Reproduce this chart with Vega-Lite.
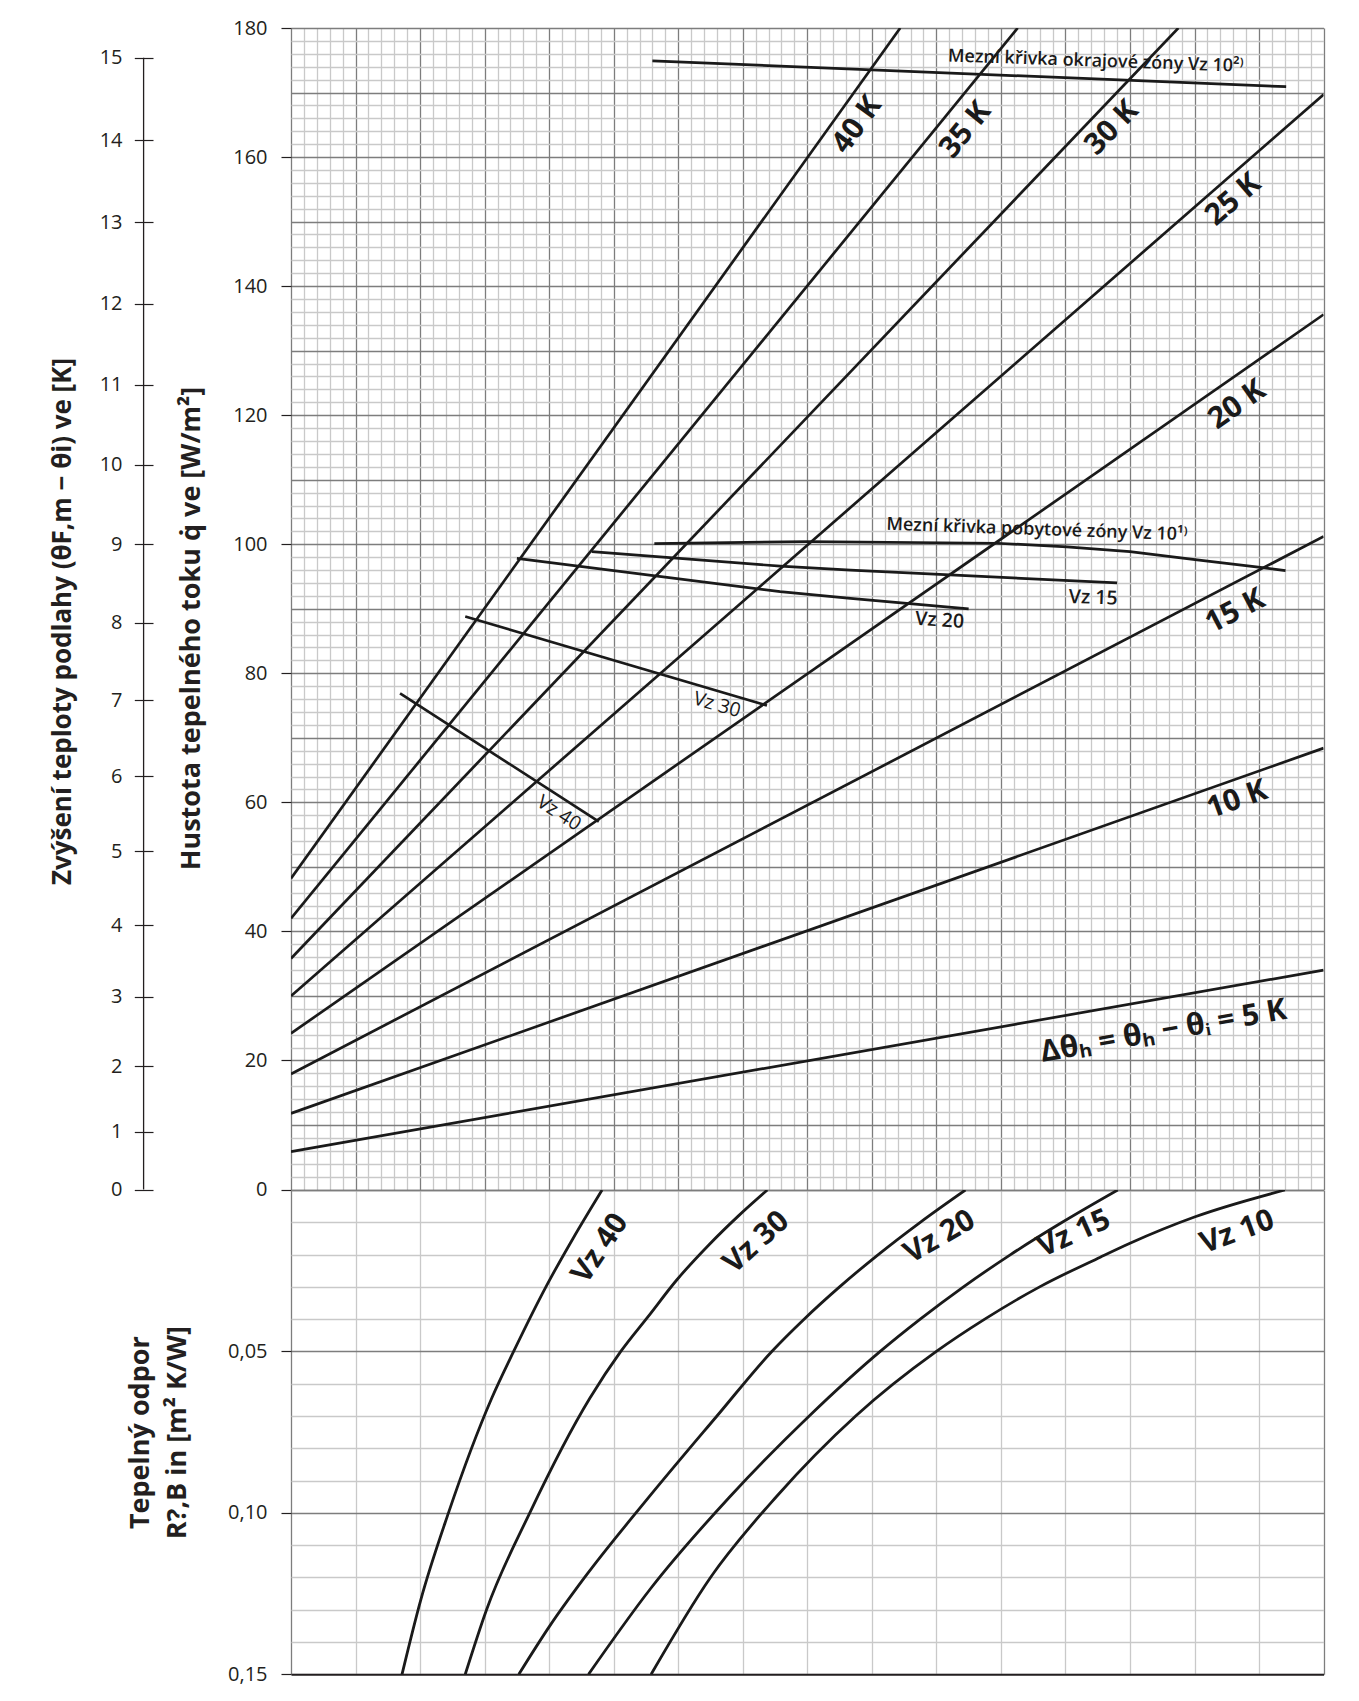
{
  "$schema": "https://vega.github.io/schema/vega-lite/v6.json",
  "background": "white",
  "padding": {"left": 49, "top": 18, "right": 5, "bottom": 5},
  "datasets": {
    "lines": [
      {"s": "5K", "x": 0, "q": 5.87}, {"s": "5K", "x": 16, "q": 34.0},
      {"s": "10K", "x": 0, "q": 11.8}, {"s": "10K", "x": 16, "q": 68.4},
      {"s": "15K", "x": 0, "q": 17.9}, {"s": "15K", "x": 16, "q": 101.2},
      {"s": "20K", "x": 0, "q": 24.2}, {"s": "20K", "x": 16, "q": 135.6},
      {"s": "25K", "x": 0, "q": 30.0}, {"s": "25K", "x": 16, "q": 169.7},
      {"s": "30K", "x": 0, "q": 35.8}, {"s": "30K", "x": 13.75, "q": 180},
      {"s": "35K", "x": 0, "q": 42.0}, {"s": "35K", "x": 11.26, "q": 180},
      {"s": "40K", "x": 0, "q": 48.2}, {"s": "40K", "x": 9.44, "q": 180},
      {"s": "okr", "x": 5.60, "q": 174.9}, {"s": "okr", "x": 15.42, "q": 170.9},
      {"s": "pob", "x": 5.63, "q": 100.1}, {"s": "pob", "x": 8.0, "q": 100.4}, {"s": "pob", "x": 10.94, "q": 100.15},
      {"s": "pob", "x": 12.02, "q": 99.6}, {"s": "pob", "x": 13.0, "q": 98.85}, {"s": "pob", "x": 14.04, "q": 97.57},
      {"s": "pob", "x": 15.02, "q": 96.4}, {"s": "pob", "x": 15.41, "q": 95.9},
      {"s": "v15", "x": 4.66, "q": 98.85}, {"s": "v15", "x": 7.58, "q": 96.6}, {"s": "v15", "x": 8.67, "q": 96.0}, {"s": "v15", "x": 12.8, "q": 94.0},
      {"s": "v20", "x": 3.50, "q": 97.8}, {"s": "v20", "x": 7.58, "q": 92.65}, {"s": "v20", "x": 8.67, "q": 91.6}, {"s": "v20", "x": 10.5, "q": 89.97},
      {"s": "v30", "x": 2.70, "q": 88.8}, {"s": "v30", "x": 7.375, "q": 75.0},
      {"s": "v40", "x": 1.69, "q": 76.9}, {"s": "v40", "x": 4.77, "q": 57.0}
    ],
    "tl": [
      {"id": "k40", "label": "40 K", "x": 8.77, "q": 165.0},
      {"id": "k35", "label": "35 K", "x": 10.45, "q": 164.2},
      {"id": "k30", "label": "30 K", "x": 12.72, "q": 164.5},
      {"id": "k25", "label": "25 K", "x": 14.6, "q": 153.4},
      {"id": "k20", "label": "20 K", "x": 14.66, "q": 121.6},
      {"id": "k15", "label": "15 K", "x": 14.63, "q": 89.6},
      {"id": "k10", "label": "10 K", "x": 14.66, "q": 60.4},
      {"id": "k5", "label": "Δθₕ = θₕ − θᵢ = 5 K", "x": 13.52, "q": 24.5},
      {"id": "okr", "label": "Mezní křivka okrajové zóny Vz 10²⁾", "x": 12.47, "q": 174.8},
      {"id": "pob", "label": "Mezní křivka pobytové zóny Vz 10¹⁾", "x": 11.56, "q": 102.2},
      {"id": "v15", "label": "Vz 15", "x": 12.43, "q": 91.7},
      {"id": "v20", "label": "Vz 20", "x": 10.05, "q": 88.2},
      {"id": "v30", "label": "Vz 30", "x": 6.6, "q": 75.1},
      {"id": "v40", "label": "Vz 40", "x": 4.15, "q": 58.3}
    ],
    "leftaxis": [{"t0": 0, "t1": 15}],
    "rcurves": [
      {"s": "40", "x": 4.82, "r": 0}, {"s": "40", "x": 4.37, "r": 0.015}, {"s": "40", "x": 3.95, "r": 0.030}, {"s": "40", "x": 3.45, "r": 0.050},
      {"s": "40", "x": 3.11, "r": 0.0645}, {"s": "40", "x": 2.44, "r": 0.100}, {"s": "40", "x": 2.01, "r": 0.127}, {"s": "40", "x": 1.72, "r": 0.15},
      {"s": "30", "x": 7.38, "r": 0}, {"s": "30", "x": 6.95, "r": 0.0077}, {"s": "30", "x": 6.47, "r": 0.0171}, {"s": "30", "x": 5.98, "r": 0.0278},
      {"s": "30", "x": 5.53, "r": 0.0393}, {"s": "30", "x": 5.11, "r": 0.050}, {"s": "30", "x": 4.63, "r": 0.0645}, {"s": "30", "x": 3.70, "r": 0.100},
      {"s": "30", "x": 3.03, "r": 0.130}, {"s": "30", "x": 2.70, "r": 0.15},
      {"s": "20", "x": 10.45, "r": 0}, {"s": "20", "x": 9.75, "r": 0.01}, {"s": "20", "x": 9.1, "r": 0.02}, {"s": "20", "x": 8.5, "r": 0.03},
      {"s": "20", "x": 7.95, "r": 0.04}, {"s": "20", "x": 7.45, "r": 0.05}, {"s": "20", "x": 6.6, "r": 0.07}, {"s": "20", "x": 5.51, "r": 0.096},
      {"s": "20", "x": 4.55, "r": 0.12}, {"s": "20", "x": 4.01, "r": 0.135}, {"s": "20", "x": 3.53, "r": 0.15},
      {"s": "15", "x": 12.81, "r": 0}, {"s": "15", "x": 11.95, "r": 0.01}, {"s": "15", "x": 11.15, "r": 0.02}, {"s": "15", "x": 10.42, "r": 0.03},
      {"s": "15", "x": 9.75, "r": 0.04}, {"s": "15", "x": 9.13, "r": 0.05}, {"s": "15", "x": 8.03, "r": 0.07}, {"s": "15", "x": 6.8, "r": 0.095},
      {"s": "15", "x": 5.57, "r": 0.1235}, {"s": "15", "x": 4.61, "r": 0.15},
      {"s": "10", "x": 15.4, "r": 0}, {"s": "10", "x": 14.01, "r": 0.0083}, {"s": "10", "x": 13.0, "r": 0.0165}, {"s": "10", "x": 12.54, "r": 0.0208},
      {"s": "10", "x": 11.6, "r": 0.03}, {"s": "10", "x": 10.75, "r": 0.04}, {"s": "10", "x": 10.0, "r": 0.05}, {"s": "10", "x": 8.75, "r": 0.07},
      {"s": "10", "x": 7.52, "r": 0.095}, {"s": "10", "x": 6.5, "r": 0.12}, {"s": "10", "x": 5.58, "r": 0.15}
    ],
    "bl": [
      {"id": "40", "label": "Vz 40", "x": 4.79, "r": 0.0181},
      {"id": "30", "label": "Vz 30", "x": 7.21, "r": 0.0162},
      {"id": "20", "label": "Vz 20", "x": 10.05, "r": 0.0145},
      {"id": "15", "label": "Vz 15", "x": 12.13, "r": 0.0135},
      {"id": "10", "label": "Vz 10", "x": 14.66, "r": 0.013}
    ]
  },
  "spacing": 0,
  "bounds": "flush",
  "vconcat": [
    {
      "width": 1032.6,
      "height": 1161.5,
      "layer": [
        {
          "layer": [
            {
              "data": {"name": "lines"},
              "mark": {"type": "line", "color": "#1a1a1a", "strokeWidth": 2.7, "clip": true},
              "encoding": {
                "x": {
                  "field": "x", "type": "quantitative",
                  "scale": {"domain": [0, 16], "nice": false, "zero": false},
                  "axis": {
                    "values": [0,0.2,0.4,0.6,0.8,1,1.2,1.4,1.6,1.8,2,2.2,2.4,2.6,2.8,3,3.2,3.4,3.6,3.8,4,4.2,4.4,4.6,4.8,5,5.2,5.4,5.6,5.8,6,6.2,6.4,6.6,6.8,7,7.2,7.4,7.6,7.8,8,8.2,8.4,8.6,8.8,9,9.2,9.4,9.6,9.8,10,10.2,10.4,10.6,10.8,11,11.2,11.4,11.6,11.8,12,12.2,12.4,12.6,12.8,13,13.2,13.4,13.6,13.8,14,14.2,14.4,14.6,14.8,15,15.2,15.4,15.6,15.8,16],
                    "tickCount": 1000,
                    "grid": true,
                    "gridColor": {"condition": {"test": "abs(datum.value - round(datum.value)) < 0.01", "value": "#7d7d7d"}, "value": "#c9c9c9"},
                    "gridWidth": 1.3,
                    "labels": false, "ticks": false, "domain": false, "title": null
                  }
                },
                "y": {
                  "field": "q", "type": "quantitative",
                  "scale": {"domain": [0, 180], "nice": false},
                  "axis": {
                    "values": [0,2,4,6,8,10,12,14,16,18,20,22,24,26,28,30,32,34,36,38,40,42,44,46,48,50,52,54,56,58,60,62,64,66,68,70,72,74,76,78,80,82,84,86,88,90,92,94,96,98,100,102,104,106,108,110,112,114,116,118,120,122,124,126,128,130,132,134,136,138,140,142,144,146,148,150,152,154,156,158,160,162,164,166,168,170,172,174,176,178,180],
                    "tickCount": 1000,
                    "format": "d",
                    "labelOverlap": false,
                    "grid": true,
                    "gridColor": {"condition": {"test": "datum.value % 10 === 0", "value": "#7d7d7d"}, "value": "#c9c9c9"},
                    "gridWidth": 1.3,
                    "domain": false,
                    "ticks": true, "tickSize": 10, "tickColor": "#231f20", "tickWidth": 1.2,
                    "tickOpacity": {"condition": {"test": "datum.value % 20 === 0", "value": 1}, "value": 0},
                    "labelExpr": "datum.value % 20 === 0 ? datum.label : ''",
                    "labelFontSize": 20, "labelPadding": 14, "labelColor": "#231f20",
                    "title": "Hustota tepelného toku q̇ ve [W/m²]",
                    "titleFontSize": 27, "titleFontWeight": "bold", "titlePadding": 27, "titleY": 600
                  }
                },
                "detail": {"field": "s"}
              }
            },
            {"data": {"name": "tl"}, "transform": [{"filter": "datum.id === 'k40'"}], "mark": {"type": "text", "style": "big", "angle": -54},
             "encoding": {"x": {"field": "x", "type": "quantitative"}, "y": {"field": "q", "type": "quantitative"}, "text": {"field": "label"}}},
            {"data": {"name": "tl"}, "transform": [{"filter": "datum.id === 'k35'"}], "mark": {"type": "text", "style": "big", "angle": -51},
             "encoding": {"x": {"field": "x", "type": "quantitative"}, "y": {"field": "q", "type": "quantitative"}, "text": {"field": "label"}}},
            {"data": {"name": "tl"}, "transform": [{"filter": "datum.id === 'k30'"}], "mark": {"type": "text", "style": "big", "angle": -46},
             "encoding": {"x": {"field": "x", "type": "quantitative"}, "y": {"field": "q", "type": "quantitative"}, "text": {"field": "label"}}},
            {"data": {"name": "tl"}, "transform": [{"filter": "datum.id === 'k25'"}], "mark": {"type": "text", "style": "big", "angle": -41},
             "encoding": {"x": {"field": "x", "type": "quantitative"}, "y": {"field": "q", "type": "quantitative"}, "text": {"field": "label"}}},
            {"data": {"name": "tl"}, "transform": [{"filter": "datum.id === 'k20'"}], "mark": {"type": "text", "style": "big", "angle": -35},
             "encoding": {"x": {"field": "x", "type": "quantitative"}, "y": {"field": "q", "type": "quantitative"}, "text": {"field": "label"}}},
            {"data": {"name": "tl"}, "transform": [{"filter": "datum.id === 'k15'"}], "mark": {"type": "text", "style": "big", "angle": -27.5},
             "encoding": {"x": {"field": "x", "type": "quantitative"}, "y": {"field": "q", "type": "quantitative"}, "text": {"field": "label"}}},
            {"data": {"name": "tl"}, "transform": [{"filter": "datum.id === 'k10'"}], "mark": {"type": "text", "style": "big", "angle": -19.5},
             "encoding": {"x": {"field": "x", "type": "quantitative"}, "y": {"field": "q", "type": "quantitative"}, "text": {"field": "label"}}},
            {"data": {"name": "tl"}, "transform": [{"filter": "datum.id === 'k5'"}], "mark": {"type": "text", "style": "big", "angle": -10},
             "encoding": {"x": {"field": "x", "type": "quantitative"}, "y": {"field": "q", "type": "quantitative"}, "text": {"field": "label"}}},
            {"data": {"name": "tl"}, "transform": [{"filter": "datum.id === 'okr'"}], "mark": {"type": "text", "style": "small", "angle": 2},
             "encoding": {"x": {"field": "x", "type": "quantitative"}, "y": {"field": "q", "type": "quantitative"}, "text": {"field": "label"}}},
            {"data": {"name": "tl"}, "transform": [{"filter": "datum.id === 'pob'"}], "mark": {"type": "text", "style": "small", "angle": 2},
             "encoding": {"x": {"field": "x", "type": "quantitative"}, "y": {"field": "q", "type": "quantitative"}, "text": {"field": "label"}}},
            {"data": {"name": "tl"}, "transform": [{"filter": "datum.id === 'v15'"}], "mark": {"type": "text", "style": "vz", "angle": 2},
             "encoding": {"x": {"field": "x", "type": "quantitative"}, "y": {"field": "q", "type": "quantitative"}, "text": {"field": "label"}}},
            {"data": {"name": "tl"}, "transform": [{"filter": "datum.id === 'v20'"}], "mark": {"type": "text", "style": "vz", "angle": 4},
             "encoding": {"x": {"field": "x", "type": "quantitative"}, "y": {"field": "q", "type": "quantitative"}, "text": {"field": "label"}}},
            {"data": {"name": "tl"}, "transform": [{"filter": "datum.id === 'v30'"}], "mark": {"type": "text", "style": "vz", "fontWeight": 500, "angle": 16},
             "encoding": {"x": {"field": "x", "type": "quantitative"}, "y": {"field": "q", "type": "quantitative"}, "text": {"field": "label"}}},
            {"data": {"name": "tl"}, "transform": [{"filter": "datum.id === 'v40'"}], "mark": {"type": "text", "style": "vz", "fontWeight": 500, "angle": 33},
             "encoding": {"x": {"field": "x", "type": "quantitative"}, "y": {"field": "q", "type": "quantitative"}, "text": {"field": "label"}}}
          ]
        },
        {
          "data": {"name": "leftaxis"},
          "mark": {"type": "rule", "color": "#231f20", "strokeWidth": 1.3},
          "encoding": {
            "x": {"datum": -2.284, "type": "quantitative"},
            "y": {
              "field": "t0", "type": "quantitative",
              "scale": {"type": "pow", "exponent": 1.1, "domain": [0, 15.3565], "nice": false, "zero": true},
              "axis": {
                "orient": "left", "offset": 138,
                "values": [0,1,2,3,4,5,6,7,8,9,10,11,12,13,14,15],
                "tickCount": 1000,
                "format": "d",
                "labelOverlap": false,
                "grid": false, "domain": false,
                "ticks": true, "tickSize": 18.7, "tickColor": "#231f20", "tickWidth": 1.2,
                "labelFontSize": 20, "labelPadding": 12.3, "labelColor": "#231f20",
                "title": "Zvýšení teploty podlahy (θF,m − θi) ve [K]",
                "titleFontSize": 26, "titleFontWeight": "bold", "titlePadding": 24, "titleY": 593
              }
            },
            "y2": {"field": "t1"}
          }
        }
      ],
      "resolve": {"scale": {"y": "independent"}}
    },
    {
      "width": 1032.6,
      "height": 484.3,
      "layer": [
        {
          "data": {"name": "rcurves"},
          "mark": {"type": "line", "color": "#1a1a1a", "strokeWidth": 2.8, "clip": true, "interpolate": "monotone"},
          "encoding": {
            "x": {
              "field": "x", "type": "quantitative",
              "scale": {"domain": [0, 16], "nice": false, "zero": false},
              "axis": {
                "values": [0,1,2,3,4,5,6,7,8,9,10,11,12,13,14,15,16],
                "tickCount": 1000,
                "grid": true,
                "gridColor": {"condition": {"test": "datum.value < 0.5 || datum.value > 15.5", "value": "#7d7d7d"}, "value": "#c9c9c9"},
                "gridWidth": 1.3,
                "labels": false, "ticks": false,
                "domain": true, "domainColor": "#231f20", "domainWidth": 2,
                "title": null
              }
            },
            "y": {
              "field": "r", "type": "quantitative",
              "scale": {"domain": [0, 0.15], "reverse": true, "nice": false},
              "axis": {
                "values": [0,0.01,0.02,0.03,0.04,0.05,0.06,0.07,0.08,0.09,0.1,0.11,0.12,0.13,0.14,0.15],
                "tickCount": 1000,
                "labelOverlap": false,
                "grid": true,
                "gridColor": {"condition": {"test": "abs(datum.value - 0.05) < 0.001 || abs(datum.value - 0.1) < 0.001 || datum.value < 0.001", "value": "#7d7d7d"}, "value": "#c9c9c9"},
                "gridWidth": 1.3,
                "domain": false,
                "ticks": true, "tickSize": 10, "tickColor": "#231f20", "tickWidth": 1.2,
                "tickOpacity": {"condition": {"test": "abs(datum.value - 0.05) < 0.001 || abs(datum.value - 0.1) < 0.001 || abs(datum.value - 0.15) < 0.001", "value": 1}, "value": 0},
                "labelExpr": "(abs(datum.value - 0.05) < 0.001 || abs(datum.value - 0.1) < 0.001 || abs(datum.value - 0.15) < 0.001) ? replace(format(datum.value, '.2f'), '.', ',') : ''",
                "labelFontSize": 20, "labelPadding": 14, "labelColor": "#231f20",
                "title": ["Tepelný odpor", "R?,B in [m² K/W]"],
                "titleFontSize": 27, "titleFontWeight": "bold", "titlePadding": 36, "titleLineHeight": 37
              }
            },
            "detail": {"field": "s"}
          }
        },
        {"data": {"name": "bl"}, "transform": [{"filter": "datum.id === '40'"}], "mark": {"type": "text", "style": "big", "angle": -56},
         "encoding": {"x": {"field": "x", "type": "quantitative"}, "y": {"field": "r", "type": "quantitative"}, "text": {"field": "label"}}},
        {"data": {"name": "bl"}, "transform": [{"filter": "datum.id === '30'"}], "mark": {"type": "text", "style": "big", "angle": -42},
         "encoding": {"x": {"field": "x", "type": "quantitative"}, "y": {"field": "r", "type": "quantitative"}, "text": {"field": "label"}}},
        {"data": {"name": "bl"}, "transform": [{"filter": "datum.id === '20'"}], "mark": {"type": "text", "style": "big", "angle": -30},
         "encoding": {"x": {"field": "x", "type": "quantitative"}, "y": {"field": "r", "type": "quantitative"}, "text": {"field": "label"}}},
        {"data": {"name": "bl"}, "transform": [{"filter": "datum.id === '15'"}], "mark": {"type": "text", "style": "big", "angle": -24},
         "encoding": {"x": {"field": "x", "type": "quantitative"}, "y": {"field": "r", "type": "quantitative"}, "text": {"field": "label"}}},
        {"data": {"name": "bl"}, "transform": [{"filter": "datum.id === '10'"}], "mark": {"type": "text", "style": "big", "angle": -20},
         "encoding": {"x": {"field": "x", "type": "quantitative"}, "y": {"field": "r", "type": "quantitative"}, "text": {"field": "label"}}}
      ]
    }
  ],
  "config": {
    "view": {"stroke": null},
    "font": "Open Sans",
    "axis": {"labelFont": "Open Sans", "titleFont": "Open Sans", "titleColor": "#231f20"},
    "text": {"font": "Open Sans", "color": "#1a1a1a"},
    "style": {
      "big": {"fontSize": 30, "fontWeight": "bold", "font": "Open Sans", "color": "#1a1a1a"},
      "small": {"fontSize": 18, "fontWeight": 600, "font": "Open Sans", "color": "#1a1a1a"},
      "vz": {"fontSize": 19.5, "fontWeight": 600, "font": "Open Sans", "color": "#1a1a1a"}
    }
  }
}
